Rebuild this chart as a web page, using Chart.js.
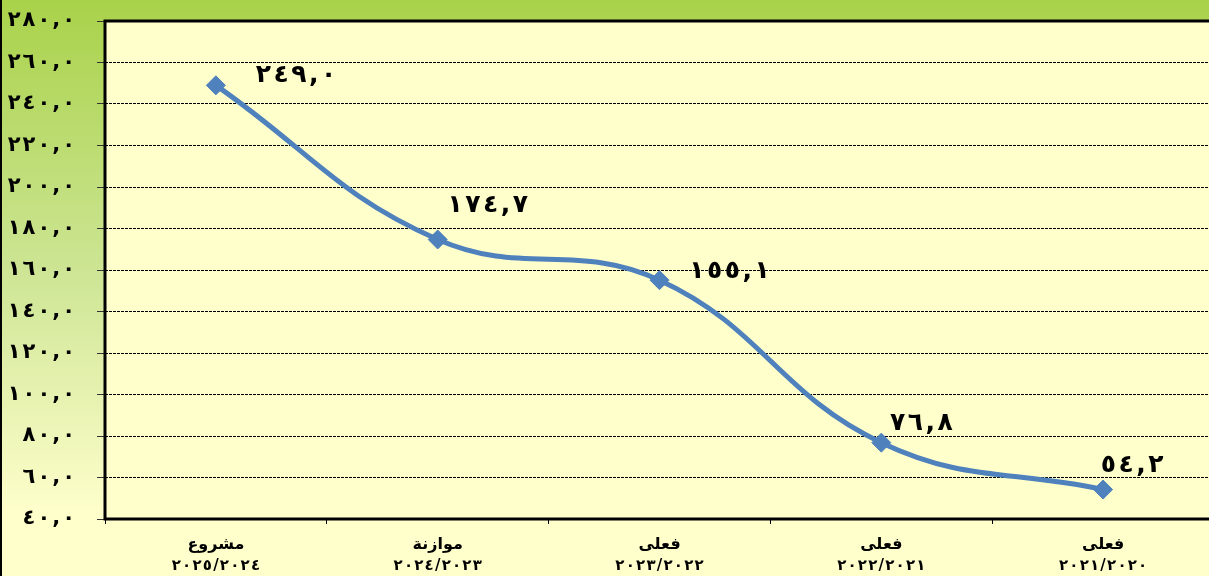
<!DOCTYPE html>
<html>
<head>
<meta charset="utf-8">
<script src="https://cdn.jsdelivr.net/npm/chart.js@4/dist/chart.umd.min.js"></script>
<style>
  html, body { margin: 0; padding: 0; overflow: hidden; background: #ffffcc; }
  canvas { display: block; }
</style>
</head>
<body>
<canvas id="myChart" width="1214" height="576"></canvas>
<script>
// categories (two-line labels), values and label texts
const categories = [
    ['مشروع', '٢٠٢٥/٢٠٢٤'],
    ['موازنة', '٢٠٢٤/٢٠٢٣'],
    ['فعلى', '٢٠٢٣/٢٠٢٢'],
    ['فعلى', '٢٠٢٢/٢٠٢١'],
    ['فعلى', '٢٠٢١/٢٠٢٠']
];
const values = [249.0, 174.7, 155.1, 76.8, 54.2];
const valueLabels = ['٢٤٩,٠', '١٧٤,٧', '١٥٥,١', '٧٦,٨', '٥٤,٢'];
const yTickLabels = ['٤٠,٠', '٦٠,٠', '٨٠,٠', '١٠٠,٠', '١٢٠,٠', '١٤٠,٠', '١٦٠,٠',
    '١٨٠,٠', '٢٠٠,٠', '٢٢٠,٠', '٢٤٠,٠', '٢٦٠,٠', '٢٨٠,٠'];

// where each value label sits relative to its point (px)
const labelOffsets = [[80, -10], [50, -34], [70, -9], [40, -19], [29, -24]];

const FONT = "'DejaVu Sans', sans-serif";

// draws text char by char so the digits get the wide spacing of the original
function drawSpaced(ctx, text, x, y, spacing, align) {
    const chars = Array.from(text);
    const widths = chars.map(c => ctx.measureText(c).width);
    const total = widths.reduce((s, w) => s + w, 0) + spacing * (chars.length - 1);
    let cx = align === 'right' ? x - total : align === 'center' ? x - total / 2 : x;
    ctx.textAlign = 'left';
    chars.forEach((c, i) => {
        ctx.fillText(c, cx, y);
        cx += widths[i] + spacing;
    });
}

const backdrop = {
    id: 'backdrop',
    beforeDraw(chart) {
        const ctx = chart.ctx;
        const a = chart.chartArea;
        const g = ctx.createLinearGradient(0, 0, 0, chart.height);
        g.addColorStop(0, '#a9d24a');
        g.addColorStop(0.47, '#cde594');
        g.addColorStop(0.9, '#ffffcc');
        g.addColorStop(1, '#ffffcc');
        ctx.save();
        ctx.fillStyle = g;
        ctx.fillRect(0, 0, chart.width, chart.height);
        ctx.fillStyle = '#ffffcc';
        ctx.fillRect(a.left, a.top, a.right - a.left, a.bottom - a.top);
        ctx.fillStyle = '#000';
        ctx.fillRect(0, 0, 2, chart.height);
        ctx.restore();
    },
    beforeDatasetsDraw(chart) {
        const ctx = chart.ctx;
        const a = chart.chartArea;
        ctx.save();
        ctx.strokeStyle = '#000';
        ctx.lineWidth = 3;
        ctx.strokeRect(a.left, a.top, a.right - a.left, a.bottom - a.top);
        ctx.restore();
    },
    afterDraw(chart) {
        const ctx = chart.ctx;
        const meta = chart.getDatasetMeta(0);
        const xs = chart.scales.x;
        const ys = chart.scales.y;
        ctx.save();
        ctx.fillStyle = '#000';
        ctx.textBaseline = 'middle';

        // value labels
        ctx.font = 'bold 25px ' + FONT;
        meta.data.forEach((pt, i) => {
            drawSpaced(ctx, valueLabels[i], pt.x + labelOffsets[i][0], pt.y + labelOffsets[i][1], 2.5, 'center');
        });

        // y tick labels
        ctx.font = 'bold 21px ' + FONT;
        ys.ticks.forEach((t, i) => {
            drawSpaced(ctx, yTickLabels[i], 75, ys.getPixelForTick(i), 2, 'right');
        });

        // x labels, two lines
        categories.forEach((lines, i) => {
            const x = xs.getPixelForTick(i);
            ctx.font = 'bold 16px ' + FONT;
            ctx.textAlign = 'center';
            ctx.fillText(lines[0], x, xs.top + 26);
            ctx.font = 'bold 15px ' + FONT;
            drawSpaced(ctx, lines[1], x, xs.top + 47, 1.2, 'center');
        });
        ctx.restore();
    }
};

const ctx = document.getElementById('myChart').getContext('2d');
new Chart(ctx, {
    type: 'line',
    data: {
        labels: categories,
        datasets: [{
            data: values,
            borderColor: '#4f81bd',
            borderWidth: 5,
            tension: 0.42,
            pointStyle: 'rectRot',
            pointRadius: 9.5,
            pointBackgroundColor: '#4f81bd',
            pointBorderColor: '#4f81bd',
            pointBorderWidth: 1
        }]
    },
    options: {
        responsive: false,
        animation: false,
        layout: { autoPadding: false, padding: { top: 21, left: 0, right: 0, bottom: 0 } },
        plugins: {
            legend: { display: false },
            tooltip: { enabled: false }
        },
        scales: {
            x: {
                offset: true,
                grid: {
                    offset: true,
                    drawOnChartArea: false,
                    tickLength: 5,
                    color: '#000',
                    lineWidth: 1
                },
                border: { display: false },
                ticks: { display: false },
                afterFit(scale) {
                    scale.height = 57;
                    scale.paddingLeft = 0;
                    scale.paddingRight = 0;
                }
            },
            y: {
                min: 40,
                max: 280,
                ticks: {
                    stepSize: 20,
                    display: false
                },
                grid: {
                    color: '#000',
                    lineWidth: 1,
                    tickLength: 8,
                    tickColor: '#333',
                    tickBorderDash: []
                },
                border: { display: false, dash: [3, 1] },
                afterFit(scale) {
                    scale.width = 105;
                    scale.paddingTop = 0;
                    scale.paddingBottom = 0;
                }
            }
        }
    },
    plugins: [backdrop]
});
</script>
</body>
</html>
